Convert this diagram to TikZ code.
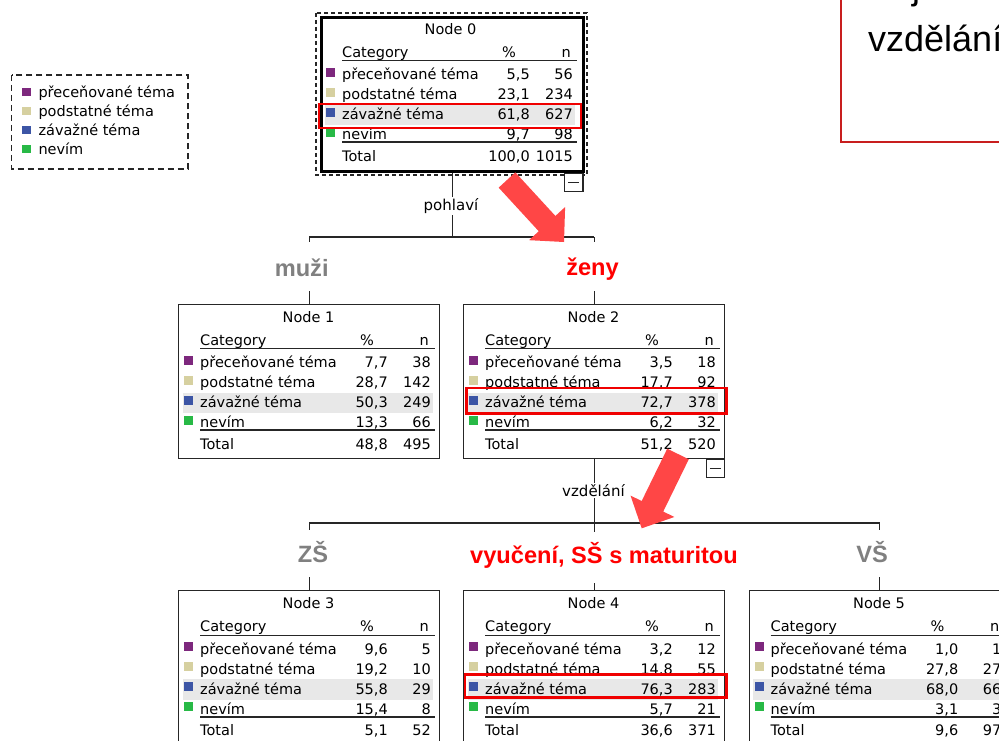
\documentclass[tikz,border=0pt]{standalone}
\usepackage{fontspec}
\setmainfont{DejaVu Sans}
\newfontfamily\arialf{Liberation Sans}
\usetikzlibrary{calc}
\definecolor{cpurple}{RGB}{125,40,125}
\definecolor{ckhaki}{RGB}{214,208,160}
\definecolor{cblue}{RGB}{60,85,165}
\definecolor{cgreen}{RGB}{40,185,70}
\definecolor{bandgray}{RGB}{232,232,232}
\definecolor{arrowred}{RGB}{255,70,70}
\definecolor{hlred}{RGB}{240,0,0}
\definecolor{labgray}{RGB}{128,128,128}
\definecolor{boxred}{RGB}{200,30,30}
\tikzset{
 tbox/.style={draw=black!85, line width=1.2pt, minimum width=261pt, minimum height=154pt, inner sep=0pt, fill=white},
 ttext/.style={font=\fontsize{14.5}{17}\selectfont, inner sep=0pt},
 hline/.style={line width=1pt, black!85},
 tline/.style={line width=2pt, black!85},
 conn/.style={line width=1.2pt, black!85},
 splitlab/.style={font=\fontsize{15}{18}\selectfont, fill=white, inner sep=1.5pt, anchor=base},
 biglab/.style={font=\arialf\bfseries\fontsize{23.6}{28}\selectfont, inner sep=0pt, anchor=base},
 hlbox/.style={draw=hlred, line width=2.4pt},
 minusbox/.style={draw=black!85, line width=1.2pt, fill=white, minimum width=18.5pt, minimum height=18pt, inner sep=0pt},
 legbox/.style={draw=black!85, line width=1.3pt, dash pattern=on 6pt off 4pt},
 outerdash/.style={draw=black!85, line width=1.2pt, dash pattern=on 4pt off 3pt},
}
\newcommand{\tablebox}[5][]{%
  \node[tbox,#1,anchor=north west] (#2) at (#3,#4) {};
  \node[ttext,anchor=base] at ([shift={(130.5,18.5)}]#2.north west) {#5};
  \node[ttext,anchor=base west] at ([shift={(22,41.5)}]#2.north west) {Category};
  \node[ttext,anchor=base] at ([shift={(189,41.5)}]#2.north west) {\%};
  \node[ttext,anchor=base east] at ([shift={(251,41.5)}]#2.north west) {n};
  \draw[hline] ([shift={(22,45)}]#2.north west) -- ([shift={(257,45)}]#2.north west);
  \fill[bandgray] ([shift={(4.5,89)}]#2.north west) rectangle ([shift={(255,109.5)}]#2.north west);
  \draw[tline] ([shift={(22,126.5)}]#2.north west) -- ([shift={(257,126.5)}]#2.north west);
}
\newcommand{\tablerow}[6]{%
  \fill[#3] ([shift={(6,#2-12)}]#1.north west) rectangle ++(9,9);
  \node[ttext,anchor=base west] at ([shift={(22,#2)}]#1.north west) {#4};
  \node[ttext,anchor=base east] at ([shift={(210,#2)}]#1.north west) {#5};
  \node[ttext,anchor=base east] at ([shift={(253,#2)}]#1.north west) {#6};
}
\newcommand{\tabletotal}[3]{%
  \node[ttext,anchor=base west] at ([shift={(22,145.5)}]#1.north west) {Total};
  \node[ttext,anchor=base east] at ([shift={(210,145.5)}]#1.north west) {#2};
  \node[ttext,anchor=base east] at ([shift={(253,145.5)}]#1.north west) {#3};
}
\newcommand{\fourrows}[9]{%
  \tablerow{#1}{64}{cpurple}{přeceňované téma}{#2}{#3}
  \tablerow{#1}{84}{ckhaki}{podstatné téma}{#4}{#5}
  \tablerow{#1}{104}{cblue}{závažné téma}{#6}{#7}
  \tablerow{#1}{124}{cgreen}{nevím}{#8}{#9}
}
\begin{document}
\begin{tikzpicture}[x=1pt,y=-1pt]
\useasboundingbox (0,0) rectangle (999,741);
\fill[white] (0,0) rectangle (999,741);

% legend
\draw[legbox] (11.7,75) rectangle (188,169);
\foreach \c/\t [count=\i] in {cpurple/přeceňované téma, ckhaki/podstatné téma, cblue/závažné téma, cgreen/nevím}{
  \fill[\c] (22,{78.3+19*\i-9.5}) rectangle ++(9,8.5);
  \node[ttext,anchor=base west] at (38.3,{78.3+19*\i}) {\t};
}

% node 0
\draw[outerdash] (316,13) rectangle (587,175);
\tablebox[line width=3pt, minimum width=262pt, draw=black]{n0}{320}{16}{Node 0}
\fourrows{n0}{5,5}{56}{23,1}{234}{61,8}{627}{9,7}{98}
\tabletotal{n0}{100,0}{1015}

% level 1
\tablebox{n1}{178}{303.5}{Node 1}
\fourrows{n1}{7,7}{38}{28,7}{142}{50,3}{249}{13,3}{66}
\tabletotal{n1}{48,8}{495}
\tablebox{n2}{463}{303.5}{Node 2}
\fourrows{n2}{3,5}{18}{17,7}{92}{72,7}{378}{6,2}{32}
\tabletotal{n2}{51,2}{520}

% level 2
\tablebox{n3}{178}{590}{Node 3}
\fourrows{n3}{9,6}{5}{19,2}{10}{55,8}{29}{15,4}{8}
\tabletotal{n3}{5,1}{52}
\tablebox{n4}{463}{590}{Node 4}
\fourrows{n4}{3,2}{12}{14,8}{55}{76,3}{283}{5,7}{21}
\tabletotal{n4}{36,6}{371}
\tablebox{n5}{748.5}{590}{Node 5}
\fourrows{n5}{1,0}{1}{27,8}{27}{68,0}{66}{3,1}{3}
\tabletotal{n5}{9,6}{97}

% connectors level 1
\coordinate (bus1) at (451,237);
\draw[conn] (n0.south) -- (n0.south |- bus1);
\draw[conn] (n1.north |- bus1) -- (n2.north |- bus1);
\draw[conn] (n1.north |- bus1) -- ++(0,5);
\draw[conn] (n2.north |- bus1) -- ++(0,5);
\draw[conn] (n1.north) -- ++(0,-13);
\draw[conn] (n2.north) -- ++(0,-13);
\node[splitlab] (split1) at (451,210.5) {pohlaví};

% connectors level 2
\coordinate (bus2) at (593.5,523);
\draw[conn] (n2.south) -- (n2.south |- bus2);
\draw[conn] (n3.north |- bus2) -- (n5.north |- bus2);
\draw[conn] (n3.north |- bus2) -- ++(0,7);
\draw[conn] (n4.north |- bus2) -- ++(0,9);
\draw[conn] (n5.north |- bus2) -- ++(0,7);
\draw[conn] (n3.north) -- ++(0,-13);
\draw[conn] (n4.north) -- ++(0,-7);
\draw[conn] (n5.north) -- ++(0,-13);
\node[splitlab] (split2) at (593.5,496) {vzdělání};

% branch labels
\node[biglab, text=labgray] (lmuzi) at (301.7,276) {muži};
\node[biglab, text=red] (lzeny) at (592.5,275) {ženy};
\node[biglab, text=labgray] (lzs) at (313,562) {ZŠ};
\node[biglab, text=red] (lss) at (604,563) {vyučení, SŠ s maturitou};
\node[biglab, text=labgray] (lvs) at (872,562) {VŠ};

% highlight rectangles
\draw[hlbox] ([shift={(-1,88)}]n0.north west) rectangle ([shift={(261,112)}]n0.north west);
\draw[hlbox] ([shift={(3.5,84.5)}]n2.north west) rectangle ([shift={(263.5,110)}]n2.north west);
\draw[hlbox] ([shift={(1.8,84.5)}]n4.north west) rectangle ([shift={(263.5,107.5)}]n4.north west);

% collapse boxes
\node[minusbox, anchor=north east] (m0) at ([xshift=-1.5pt]n0.south east) {};
\draw[conn] ([xshift=-5.5pt]m0.center) -- ([xshift=5.5pt]m0.center);
\node[minusbox, anchor=north east] (m2) at (n2.south east) {};
\draw[conn] ([xshift=-5.5pt]m2.center) -- ([xshift=5.5pt]m2.center);

% top right note box
\draw[boxred, line width=2pt, fill=white] (841,-5) rectangle (1010,142.5);
\node[font=\arialf\fontsize{36}{42}\selectfont, anchor=base west, inner sep=0pt] (note1) at (912,0) {j};
\node[font=\arialf\fontsize{36}{42}\selectfont, anchor=base west, inner sep=0pt] (note2) at (868,52) {vzdělání};

% red arrows
\coordinate (a1s) at (507,180);
\coordinate (a1t) at (564,242);
\coordinate (a1b) at ($(a1t)!25pt!(a1s)$);
\fill[arrowred] ($(a1s)!11.3pt!90:(a1t)$) -- ($(a1b)!11.3pt!90:(a1t)$) -- ($(a1b)!24.5pt!90:(a1t)$) -- (a1t) -- ($(a1b)!24.5pt!-90:(a1t)$) -- ($(a1b)!11.3pt!-90:(a1t)$) -- ($(a1s)!11.3pt!-90:(a1t)$) -- cycle;
\coordinate (a2s) at (678,454);
\coordinate (a2t) at (641.7,528.3);
\coordinate (a2b) at ($(a2t)!24.5pt!(a2s)$);
\fill[arrowred] ($(a2s)!12pt!90:(a2t)$) -- ($(a2b)!12pt!90:(a2t)$) -- ($(a2b)!24.4pt!90:(a2t)$) -- (a2t) -- ($(a2b)!24.4pt!-90:(a2t)$) -- ($(a2b)!12pt!-90:(a2t)$) -- ($(a2s)!12pt!-90:(a2t)$) -- cycle;
\end{tikzpicture}
\end{document}
